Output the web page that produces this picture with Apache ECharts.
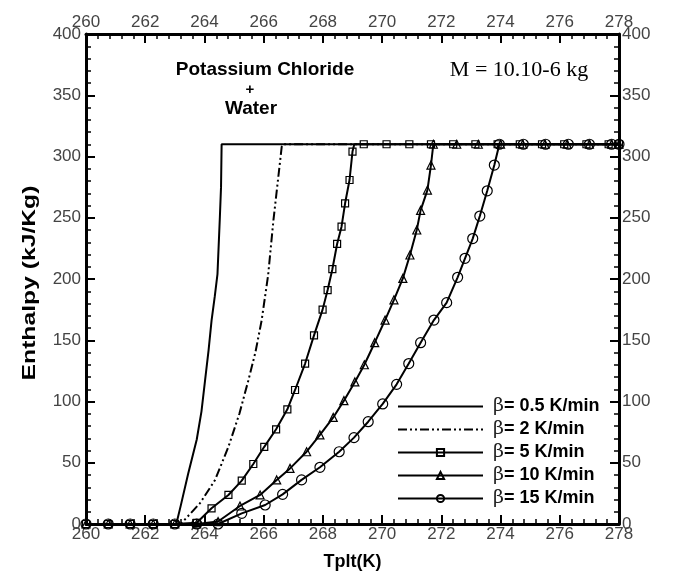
<!DOCTYPE html>
<html>
<head>
<meta charset="UTF-8" />
<title>Enthalpy vs Tplt</title>
<script src="https://cdn.jsdelivr.net/npm/echarts@6/dist/echarts.min.js"></script>
<style>
    html, body { margin: 0; padding: 0; background: #fff; }
    #main { width: 673px; height: 576px; }
</style>
</head>
<body>
<div id="main"></div>
<script>
// heating rates (legend)
var rates = ['0.5 K/min', '2 K/min', '5 K/min', '10 K/min', '15 K/min'];

// beta = 0.5 K/min
var t05 = [260, 263.05, 263.2, 263.45, 263.74, 263.9, 264.02, 264.14, 264.24, 264.35, 264.44, 264.52, 264.56, 264.58, 278];
var h05 = [0, 0, 15, 41, 69, 92, 117, 142, 166, 186, 204, 250, 275, 310, 310];

// beta = 2 K/min
var t2 = [260, 263.2, 263.85, 264.36, 264.81, 265.18, 265.48, 265.72, 265.93, 266.15, 266.33, 266.61, 266.66, 278];
var h2 = [0, 0, 17, 36, 63, 90, 117, 140, 166, 203, 248, 308, 310, 310];

// beta = 5 K/min
var t5 = [260, 260.75, 261.49, 262.27, 263.0, 263.74, 264.24, 264.81, 265.26, 265.65, 266.02, 266.42, 266.8, 267.06,
    267.4, 267.7, 267.99, 268.16, 268.32, 268.48, 268.63, 268.75, 268.9, 269.0, 269.06,
    269.38, 270.15, 270.92, 271.65, 272.4, 273.15, 273.9, 274.65, 275.4, 276.15, 276.9, 277.65, 278];
var h5 = [0, 0, 0, 0, 0, 1, 12.8, 23.7, 35.4, 49, 63, 77.3, 93.6, 109.4,
    131, 154, 175, 191, 208, 228.6, 242.7, 261.8, 280.8, 304, 310,
    310, 310, 310, 310, 310, 310, 310, 310, 310, 310, 310, 310, 310];
var corner5 = [24]; // bend at the plateau, no marker there

// beta = 10 K/min
var t10 = [260, 260.75, 261.49, 262.27, 263.0, 263.74, 264.46, 265.2, 265.88, 266.44, 266.89, 267.45, 267.9, 268.35,
    268.71, 269.08, 269.4, 269.75, 270.1, 270.4, 270.7, 270.94, 271.17, 271.3, 271.53, 271.65, 271.73,
    272.52, 273.25, 274.0, 274.75, 275.5, 276.25, 277.0, 277.75, 278];
var h10 = [0, 0, 0, 0, 0, 0, 2, 14.7, 23.7, 36, 45.4, 59, 72.7, 87,
    100.7, 116, 130, 148, 166.5, 183, 200.5, 219.6, 240, 256, 272.6, 293, 310,
    310, 310, 310, 310, 310, 310, 310, 310, 310];

// beta = 15 K/min
var t15 = [260, 260.75, 261.49, 262.27, 263.0, 263.74, 264.46, 265.26, 266.05, 266.64, 267.28, 267.9, 268.55, 269.05,
    269.53, 270.02, 270.49, 270.9, 271.3, 271.75, 272.18, 272.55, 272.8, 273.06, 273.3, 273.55, 273.79, 273.96,
    274.77, 275.52, 276.29, 277.0, 277.75, 278];
var h15 = [0, 0, 0, 0, 0, 0, 0, 8.7, 15.5, 24.2, 36, 46.3, 59, 70.5,
    83.5, 98, 114, 131, 148, 166.5, 180.7, 201.4, 216.9, 233, 251.4, 272, 293, 310,
    310, 310, 310, 310, 310, 310];

function pairs(t, h, plain) {
    var out = [];
    for (var i = 0; i < t.length; i++) {
        if (plain && plain.indexOf(i) > -1) out.push({ value: [t[i], h[i]], symbol: 'none' });
        else out.push([t[i], h[i]]);
    }
    return out;
}

var labelFont = '"Liberation Sans Narrow", "Liberation Sans", Arial, sans-serif';
var boldFont = '"Liberation Sans", Arial, sans-serif';

function xAx(pos) {
    return {
        type: 'value', position: pos, min: 260, max: 278, interval: 2,
        axisLine: { onZero: false, lineStyle: { color: '#000', width: 3 } },
        axisTick: { inside: true, length: 9, lineStyle: { color: '#000', width: 2 } },
        minorTick: { show: true, splitNumber: 5, length: 5, lineStyle: { color: '#000', width: 1.5 } },
        axisLabel: { margin: pos == 'top' ? 3 : 2, fontSize: 17, color: '#444', fontFamily: labelFont },
        splitLine: { show: false }
    };
}

function yAx(pos) {
    return {
        type: 'value', position: pos, min: 0, max: 400, interval: 50,
        axisLine: { onZero: false, lineStyle: { color: '#000', width: 3 } },
        axisTick: { inside: true, length: 9, lineStyle: { color: '#000', width: 2 } },
        minorTick: { show: true, splitNumber: 5, length: 5, lineStyle: { color: '#000', width: 1.5 } },
        axisLabel: { margin: pos == 'left' ? 5 : 3, fontSize: 17, color: '#444', fontFamily: labelFont },
        splitLine: { show: false }
    };
}

var xBottom = xAx('bottom');
xBottom.name = 'Tplt(K)';
xBottom.nameLocation = 'middle';
xBottom.nameGap = 29;
xBottom.nameTextStyle = { fontSize: 18, fontWeight: 'bold', color: '#000', fontFamily: boldFont };

var hollow = { color: 'rgba(255,255,255,0)', borderColor: '#000', borderWidth: 1.2 };

function curve(name, data, symbol, size, dash) {
    return {
        name: name, type: 'line', xAxisIndex: 0, yAxisIndex: 0,
        data: data,
        symbol: symbol, symbolSize: size, showSymbol: symbol != 'none',
        lineStyle: { color: '#000', width: 2, type: dash || 'solid' },
        itemStyle: symbol == 'none' ? { color: '#000' } : hollow,
        emphasis: { disabled: true },
        animation: false
    };
}

var noMark = { opacity: 0 };

var myChart = echarts.init(document.getElementById('main'));
myChart.setOption({
    backgroundColor: '#fff',
    grid: { left: 86, right: 54, top: 34, bottom: 52 },
    xAxis: [xBottom, xAx('top')],
    yAxis: [yAx('left'), yAx('right')],
    legend: {
        orient: 'vertical', left: 392, top: 392,
        itemWidth: 85, itemHeight: 9, itemGap: 4,
        data: [
            { name: rates[0], itemStyle: noMark },
            { name: rates[1], itemStyle: noMark },
            rates[2], rates[3], rates[4]
        ],
        formatter: function(name) { return '{b|β}{t|= ' + name + '}'; },
        textStyle: {
            padding: [0, 0, 0, 5],
            rich: {
                b: { fontSize: 19, fontFamily: '"DejaVu Serif", serif', color: '#222', fontWeight: 'normal' },
                t: { fontSize: 18, fontWeight: 'bold', fontFamily: boldFont, color: '#000' }
            }
        }
    },
    graphic: [
        { type: 'text', x: 30, y: 283, rotation: Math.PI / 2, scaleX: 1.3,
          style: { text: 'Enthalpy (kJ/Kg)', font: 'bold 19px "Liberation Sans", Arial', fill: '#000', align: 'center', verticalAlign: 'middle' } },
        { type: 'text', x: 265, y: 70, style: { text: 'Potassium Chloride', font: 'bold 19px "Liberation Sans", Arial', fill: '#000', align: 'center', verticalAlign: 'middle' } },
        { type: 'text', x: 250, y: 90, style: { text: '+', font: 'bold 15px "Liberation Sans", Arial', fill: '#000', align: 'center', verticalAlign: 'middle' } },
        { type: 'text', x: 251, y: 109, style: { text: 'Water', font: 'bold 19px "Liberation Sans", Arial', fill: '#000', align: 'center', verticalAlign: 'middle' } },
        { type: 'text', x: 519, y: 70, style: { text: 'M = 10.10-6 kg', font: '22px "Liberation Serif", "Times New Roman", serif', fill: '#000', align: 'center', verticalAlign: 'middle' } }
    ],
    series: [
        curve(rates[0], pairs(t05, h05), 'none', 0),
        curve(rates[1], pairs(t2, h2), 'none', 0, [9, 3, 2, 3, 2, 3]),
        curve(rates[2], pairs(t5, h5, corner5), 'rect', 7),
        curve(rates[3], pairs(t10, h10), 'triangle', 8),
        curve(rates[4], pairs(t15, h15), 'circle', 10)
    ]
});
</script>
</body>
</html>
